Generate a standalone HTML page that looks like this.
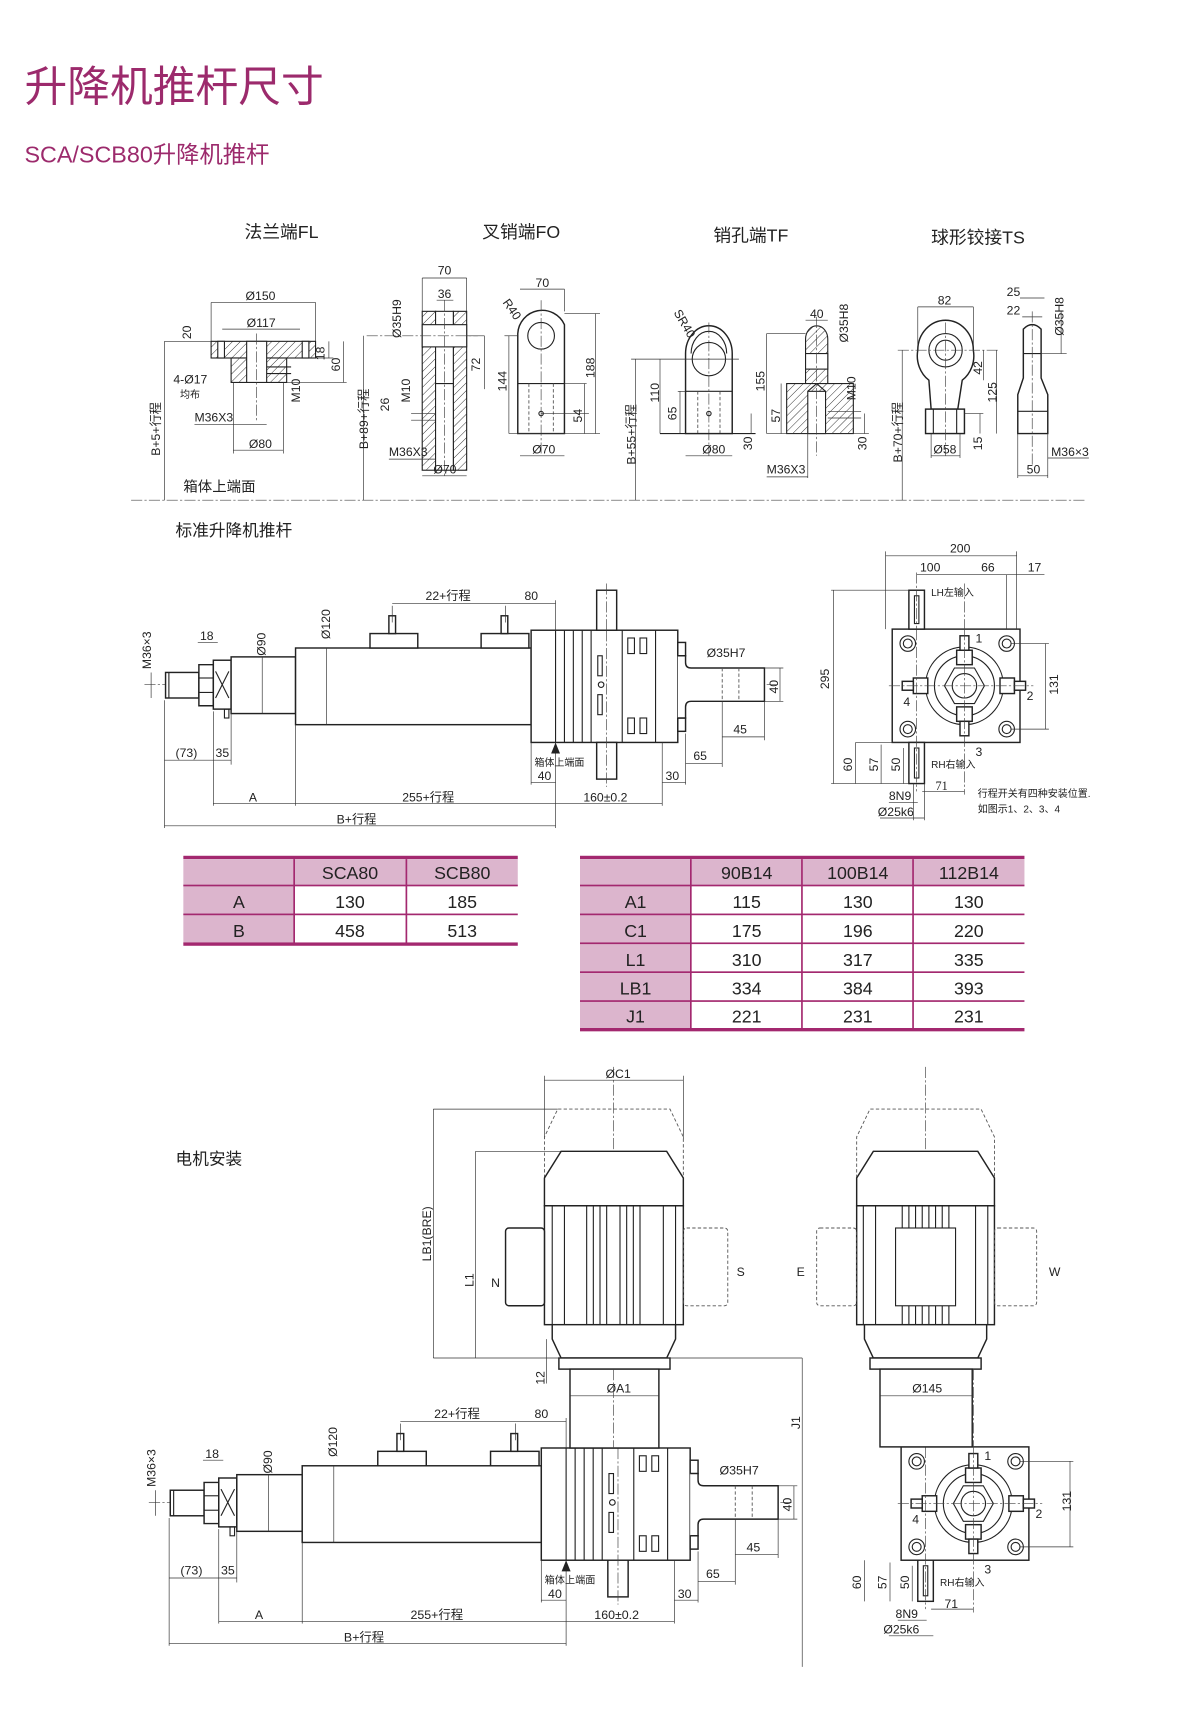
<!DOCTYPE html>
<html><head><meta charset="utf-8"><style>
html,body{margin:0;padding:0;background:#fff}
svg{display:block}
text{font-family:"Liberation Sans","Noto Sans CJK SC",sans-serif;fill:#222}
.t{font-size:11px}
.s{font-size:9px}
.h{font-size:16px}
.ln{stroke:#222;stroke-width:1;fill:none}
.th{stroke:#222;stroke-width:1.3;fill:#fff}
.d{stroke:#333;stroke-width:0.6;fill:none}
.c{stroke:#444;stroke-width:0.6;fill:none;stroke-dasharray:10 2 2 2}
.dash{stroke:#555;stroke-width:0.8;fill:none;stroke-dasharray:3 2}
.tb{font-size:16px;fill:#222}
</style></head><body>
<svg width="1200" height="1726" viewBox="0 0 1080 1553" xmlns="http://www.w3.org/2000/svg">
<defs>
<pattern id="hat" patternUnits="userSpaceOnUse" width="5" height="5" patternTransform="rotate(45)">
<rect width="5" height="5" fill="#fff"/><line x1="0" y1="0" x2="0" y2="5" stroke="#222" stroke-width="0.8"/></pattern>
</defs>

<!-- Titles -->
<text x="22" y="91" style="font-size:38.5px;fill:#9c2a6c">升降机推杆尺寸</text>
<text x="22" y="146" style="font-size:21px;fill:#9c2a6c">SCA/SCB80升降机推杆</text>

<text x="220" y="214" class="h">法兰端FL</text>
<text x="434" y="214" class="h">叉销端FO</text>
<text x="642" y="217" class="h">销孔端TF</text>
<text x="838" y="219" class="h">球形铰接TS</text>

<line x1="118" y1="450" x2="978" y2="450" class="c"/>
<text x="165" y="442" style="font-size:13px">箱体上端面</text>
<text x="158" y="482" style="font-size:15px">标准升降机推杆</text>
<text x="158" y="1048" style="font-size:15px">电机安装</text>

<!-- FL -->
<g>
<line x1="190" y1="272" x2="284" y2="272" class="d"/><text x="221" y="270" class="t">Ø150</text>
<line x1="200" y1="296" x2="270" y2="296" class="d"/><text x="222" y="294" class="t">Ø117</text>
<line x1="190" y1="272" x2="190" y2="307" class="d"/><line x1="284" y1="272" x2="284" y2="307" class="d"/>
<rect x="190" y="307" width="94" height="15" fill="url(#hat)" stroke="#222"/>
<rect x="208" y="322" width="50" height="22" fill="url(#hat)" stroke="#222"/>
<rect x="222" y="307" width="18" height="37" fill="#fff" stroke="#222"/>
<rect x="196" y="307" width="6" height="15" fill="#fff" stroke="#222"/>
<rect x="272" y="307" width="6" height="15" fill="#fff" stroke="#222"/>
<line x1="231" y1="300" x2="231" y2="380" class="c"/>
<line x1="240" y1="330" x2="262" y2="330" class="ln"/><line x1="240" y1="336" x2="262" y2="336" class="ln"/>
<line x1="148" y1="307" x2="190" y2="307" class="d"/>
<line x1="148" y1="307" x2="148" y2="450" class="d"/>
<text transform="translate(172,305) rotate(-90)" class="t">20</text>
<line x1="284" y1="322" x2="300" y2="322" class="d"/><line x1="258" y1="344" x2="312" y2="344" class="d"/>
<line x1="296" y1="307" x2="296" y2="322" class="d"/><text transform="translate(292,324) rotate(-90)" class="t">18</text>
<line x1="309" y1="307" x2="309" y2="344" class="d"/><text transform="translate(306,334) rotate(-90)" class="t">60</text>
<text transform="translate(270,362) rotate(-90)" class="t">M10</text>
<text x="156" y="345" class="t">4-Ø17</text><text x="162" y="358" class="s">均布</text>
<text x="175" y="379" class="t">M36X3</text><line x1="175" y1="382" x2="240" y2="382" class="d"/>
<line x1="210" y1="344" x2="210" y2="408" class="d"/><line x1="255" y1="344" x2="255" y2="408" class="d"/>
<line x1="210" y1="405" x2="255" y2="405" class="d"/><text x="224" y="403" class="t">Ø80</text>
<text transform="translate(144,410) rotate(-90)" class="t">B+5+行程</text>
</g>

<!-- FO left -->
<g>
<line x1="380" y1="250" x2="420" y2="250" class="d"/><text x="394" y="247" class="t">70</text>
<line x1="393" y1="270" x2="408" y2="270" class="d"/><text x="394" y="268" class="t">36</text>
<line x1="380" y1="250" x2="380" y2="280" class="d"/><line x1="420" y1="250" x2="420" y2="280" class="d"/>
<rect x="380" y="280" width="12" height="143" fill="url(#hat)" stroke="#222"/>
<rect x="408" y="280" width="12" height="143" fill="url(#hat)" stroke="#222"/>
<rect x="392" y="280" width="16" height="143" fill="#fff" stroke="#222"/>
<rect x="380" y="292" width="40" height="20" fill="#fff" stroke="#222"/>
<line x1="392" y1="345" x2="408" y2="345" class="ln"/>
<line x1="400" y1="270" x2="400" y2="430" class="c"/>
<line x1="330" y1="302" x2="430" y2="302" class="c"/>
<line x1="420" y1="302" x2="436" y2="302" class="d"/><line x1="436" y1="302" x2="436" y2="350" class="d"/>
<text transform="translate(432,334) rotate(-90)" class="t">72</text>
<text transform="translate(361,304) rotate(-90)" class="t">Ø35H9</text>
<text transform="translate(369,362) rotate(-90)" class="t">M10</text>
<text transform="translate(350,370) rotate(-90)" class="t">26</text>
<line x1="370" y1="372" x2="392" y2="372" class="d"/><line x1="370" y1="378" x2="392" y2="378" class="d"/>
<line x1="327" y1="302" x2="327" y2="450" class="d"/>
<text transform="translate(331,404) rotate(-90)" class="t">B+89+行程</text>
<text x="350" y="410" class="t">M36X3</text><line x1="350" y1="413" x2="392" y2="413" class="d"/>
<line x1="380" y1="428" x2="420" y2="428" class="d"/><text x="390" y="426" class="t">Ø70</text>
</g>
<!-- FO right -->
<g>
<line x1="468" y1="260" x2="508" y2="260" class="d"/><text x="482" y="258" class="t">70</text>
<line x1="508" y1="260" x2="508" y2="280" class="d"/>
<path d="M466,390 L466,300 A22,22 0 0 1 508,292 L508,390 Z" class="th"/>
<circle cx="487" cy="302" r="12" class="ln"/>
<line x1="466" y1="345" x2="508" y2="345" class="ln"/>
<line x1="476" y1="345" x2="476" y2="390" class="dash"/><line x1="498" y1="345" x2="498" y2="390" class="dash"/>
<circle cx="487" cy="372" r="2" class="ln"/>
<line x1="487" y1="270" x2="487" y2="410" class="c"/>
<text transform="translate(452,272) rotate(55)" class="t">R40</text>
<line x1="454" y1="302" x2="466" y2="302" class="d"/><line x1="458" y1="302" x2="458" y2="390" class="d"/>
<text transform="translate(456,352) rotate(-90)" class="t">144</text>
<line x1="508" y1="282" x2="540" y2="282" class="d"/><line x1="536" y1="282" x2="536" y2="390" class="d"/>
<text transform="translate(535,340) rotate(-90)" class="t">188</text>
<line x1="508" y1="345" x2="528" y2="345" class="d"/><line x1="526" y1="345" x2="526" y2="390" class="d"/>
<line x1="487" y1="372" x2="530" y2="372" class="d"/>
<text transform="translate(524,380) rotate(-90)" class="t">54</text>
<line x1="458" y1="390" x2="540" y2="390" class="d"/>
<line x1="468" y1="410" x2="508" y2="410" class="d"/><text x="479" y="408" class="t">Ø70</text>
</g>

<!-- TF left -->
<g>
<path d="M617,390 L617,318 A21,25 0 0 1 659,318 L659,390 Z" class="th"/>
<path d="M622,318 A16,20 0 0 1 654,318" class="ln"/>
<circle cx="638" cy="323" r="15" class="ln"/>
<line x1="617" y1="352" x2="659" y2="352" class="ln"/>
<line x1="628" y1="352" x2="628" y2="390" class="dash"/><line x1="648" y1="352" x2="648" y2="390" class="dash"/>
<circle cx="638" cy="372" r="2" class="ln"/>
<line x1="638" y1="290" x2="638" y2="410" class="c"/>
<text transform="translate(606,281) rotate(60)" class="t">SR40</text>
<line x1="568" y1="323" x2="665" y2="323" class="d"/>
<line x1="594" y1="323" x2="594" y2="390" class="d"/><text transform="translate(593,362) rotate(-90)" class="t">110</text>
<line x1="610" y1="352" x2="617" y2="352" class="d"/><line x1="612" y1="352" x2="612" y2="390" class="d"/>
<text transform="translate(609,378) rotate(-90)" class="t">65</text>
<line x1="594" y1="390" x2="680" y2="390" class="ln"/>
<line x1="572" y1="323" x2="572" y2="450" class="d"/>
<text transform="translate(572,418) rotate(-90)" class="t">B+55+行程</text>
<line x1="617" y1="410" x2="659" y2="410" class="d"/><text x="632" y="408" class="t">Ø80</text>
<line x1="676" y1="372" x2="676" y2="390" class="d"/><text transform="translate(677,405) rotate(-90)" class="t">30</text>
</g>
<!-- TF right -->
<g>
<path d="M725,345 L725,305 A10,12 0 0 1 745,305 L745,345 Z" fill="url(#hat)" stroke="#222"/>
<rect x="725" y="318" width="20" height="14" fill="#fff" stroke="#222"/>
<rect x="708" y="345" width="60" height="45" fill="url(#hat)" stroke="#222"/>
<rect x="727" y="352" width="16" height="38" fill="#fff" stroke="#222"/>
<path d="M727,352 L735,345 L743,352" class="ln"/>
<line x1="735" y1="285" x2="735" y2="410" class="c"/>
<line x1="725" y1="288" x2="745" y2="288" class="d"/><text x="729" y="286" class="t">40</text>
<text transform="translate(763,308) rotate(-90)" class="t">Ø35H8</text>
<line x1="690" y1="300" x2="725" y2="300" class="d"/>
<line x1="690" y1="300" x2="690" y2="390" class="d"/><text transform="translate(688,352) rotate(-90)" class="t">155</text>
<line x1="703" y1="345" x2="703" y2="390" class="d"/><text transform="translate(702,380) rotate(-90)" class="t">57</text>
<text transform="translate(770,360) rotate(-90)" class="t">M10</text>
<line x1="745" y1="370" x2="775" y2="370" class="d"/><line x1="745" y1="376" x2="775" y2="376" class="d"/>
<line x1="778" y1="372" x2="778" y2="390" class="d"/><text transform="translate(780,405) rotate(-90)" class="t">30</text>
<line x1="690" y1="390" x2="782" y2="390" class="d"/>
<text x="690" y="426" class="t">M36X3</text><line x1="690" y1="429" x2="727" y2="429" class="d"/>
<line x1="727" y1="390" x2="727" y2="430" class="d"/>
</g>

<!-- TS left -->
<g>
<line x1="826" y1="276" x2="876" y2="276" class="d"/><text x="844" y="274" class="t">82</text>
<line x1="826" y1="276" x2="826" y2="315" class="d"/><line x1="876" y1="276" x2="876" y2="315" class="d"/>
<path d="M826,315 A25,27 0 0 1 876,315 A25,27 0 0 1 866,342 L862,368 L838,368 L836,342 A25,27 0 0 1 826,315 Z" class="th"/>
<circle cx="851" cy="315" r="15" class="ln"/><circle cx="851" cy="315" r="9" class="ln"/>
<rect x="833" y="368" width="35" height="22" class="th"/>
<line x1="840" y1="368" x2="840" y2="390" class="ln"/><line x1="861" y1="368" x2="861" y2="390" class="ln"/>
<line x1="851" y1="290" x2="851" y2="410" class="c"/>
<line x1="808" y1="315" x2="900" y2="315" class="c"/>
<line x1="885" y1="315" x2="885" y2="342" class="d"/><text transform="translate(884,337) rotate(-90)" class="t">42</text>
<line x1="897" y1="315" x2="897" y2="390" class="d"/><text transform="translate(897,362) rotate(-90)" class="t">125</text>
<line x1="868" y1="372" x2="885" y2="372" class="d"/><line x1="882" y1="372" x2="882" y2="390" class="d"/>
<text transform="translate(884,405) rotate(-90)" class="t">15</text>
<line x1="812" y1="315" x2="812" y2="450" class="d"/>
<text transform="translate(812,416) rotate(-90)" class="t">B+70+行程</text>
<line x1="838" y1="410" x2="864" y2="410" class="d"/><text x="840" y="408" class="t">Ø58</text>
<line x1="838" y1="390" x2="838" y2="412" class="d"/><line x1="864" y1="390" x2="864" y2="412" class="d"/>
</g>
<!-- TS right -->
<g>
<line x1="918" y1="268" x2="940" y2="268" class="d"/><text x="906" y="266" class="t">25</text>
<line x1="920" y1="285" x2="938" y2="285" class="d"/><text x="906" y="283" class="t">22</text>
<path d="M921,340 L921,296 Q929,288 937,296 L937,340 L943,355 L943,390 L916,390 L916,355 Z" class="th"/>
<line x1="916" y1="370" x2="943" y2="370" class="ln"/>
<line x1="921" y1="318" x2="937" y2="318" class="ln"/>
<line x1="929" y1="280" x2="929" y2="420" class="c"/>
<text transform="translate(957,302) rotate(-90)" class="t">Ø35H8</text>
<line x1="937" y1="318" x2="960" y2="318" class="d"/><line x1="955" y1="280" x2="955" y2="318" class="d"/>
<text x="946" y="410" class="t">M36×3</text><line x1="943" y1="412" x2="980" y2="412" class="d"/>
<line x1="916" y1="428" x2="943" y2="428" class="d"/><text x="924" y="426" class="t">50</text>
<line x1="916" y1="390" x2="916" y2="430" class="d"/><line x1="943" y1="390" x2="943" y2="430" class="d"/>
</g>

<!-- Standard actuator -->
<g id="act">
<line x1="130" y1="616" x2="702" y2="616" class="c"/>
<rect x="149" y="605" width="30" height="23" class="th"/>
<line x1="152" y1="605" x2="152" y2="628" class="ln"/>
<path d="M179,598 L192,598 L192,635 L179,635 Z" class="th"/>
<line x1="179" y1="610" x2="192" y2="610" class="ln"/><line x1="179" y1="623" x2="192" y2="623" class="ln"/>
<rect x="192" y="594" width="16" height="44" class="th"/>
<line x1="194" y1="604" x2="206" y2="628" class="ln"/><line x1="206" y1="604" x2="194" y2="628" class="ln"/>
<rect x="202" y="638" width="4" height="8" class="ln"/>
<rect x="208" y="591" width="58" height="51" class="th"/>
<rect x="266" y="583" width="212" height="69" class="th"/>
<rect x="333" y="570" width="43" height="13" class="th"/>
<rect x="350" y="554" width="6" height="16" class="th"/>
<rect x="433" y="570" width="43" height="13" class="th"/>
<rect x="451" y="554" width="6" height="16" class="th"/>
<rect x="478" y="567" width="132" height="101" class="th"/>
<g class="ln">
<line x1="500" y1="567" x2="500" y2="668"/><line x1="508" y1="567" x2="508" y2="668"/><line x1="516" y1="567" x2="516" y2="668"/><line x1="524" y1="567" x2="524" y2="668"/><line x1="532" y1="567" x2="532" y2="668"/>
<line x1="560" y1="567" x2="560" y2="668"/><line x1="590" y1="567" x2="590" y2="668"/>
<rect x="538" y="590" width="4" height="18"/><rect x="538" y="625" width="4" height="18"/>
<rect x="565" y="574" width="6" height="14"/><rect x="576" y="574" width="6" height="14"/>
<rect x="565" y="646" width="6" height="14"/><rect x="576" y="646" width="6" height="14"/>
<circle cx="541" cy="616" r="2.5"/>
</g>
<rect x="537" y="668" width="18" height="33" class="th"/>
<rect x="610" y="578" width="7" height="12" class="th"/><rect x="610" y="646" width="7" height="12" class="th"/>
<path d="M610,590 L617,590 L617,596 Q617,601 622,601 L688,601 L688,631 L622,631 Q617,631 617,636 L617,646 L610,646" class="th"/>
<line x1="650" y1="601" x2="650" y2="631" class="dash"/><line x1="665" y1="601" x2="665" y2="631" class="dash"/>
<line x1="546" y1="567" x2="546" y2="708" class="c"/>
<line x1="353" y1="545" x2="353" y2="560" class="d"/><line x1="455" y1="545" x2="455" y2="560" class="d"/><line x1="500" y1="540" x2="500" y2="567" class="d"/>
<line x1="353" y1="543" x2="500" y2="543" class="d"/>
<text x="383" y="540" class="t">22+行程</text><text x="472" y="540" class="t">80</text>
<line x1="294" y1="583" x2="294" y2="652" class="d"/><text transform="translate(297,575) rotate(-90)" class="t">Ø120</text>
<line x1="236" y1="591" x2="236" y2="642" class="d"/><text transform="translate(239,590) rotate(-90)" class="t">Ø90</text>
<line x1="178" y1="578" x2="196" y2="578" class="d"/><text x="180" y="576" class="t">18</text>
<line x1="136" y1="605" x2="136" y2="628" class="d"/><text transform="translate(136,602) rotate(-90)" class="t">M36×3</text>
<line x1="148" y1="630" x2="148" y2="745" class="d"/><line x1="192" y1="640" x2="192" y2="725" class="d"/><line x1="208" y1="640" x2="208" y2="688" class="d"/>
<line x1="148" y1="684" x2="208" y2="684" class="d"/><text x="158" y="681" class="t">(73)</text><text x="194" y="681" class="t">35</text>
<line x1="266" y1="652" x2="266" y2="725" class="d"/>
<line x1="500" y1="668" x2="500" y2="745" class="d"/>
<path d="M500,668 L496,678 L504,678 Z" fill="#222"/>
<text x="481" y="689" class="s">箱体上端面</text>
<line x1="478" y1="668" x2="478" y2="706" class="d"/><line x1="478" y1="704" x2="500" y2="704" class="d"/><text x="484" y="702" class="t">40</text>
<line x1="596" y1="668" x2="596" y2="725" class="d"/><line x1="596" y1="704" x2="617" y2="704" class="d"/><line x1="617" y1="660" x2="617" y2="706" class="d"/><text x="599" y="702" class="t">30</text>
<line x1="617" y1="687" x2="650" y2="687" class="d"/><line x1="650" y1="631" x2="650" y2="690" class="d"/><text x="624" y="684" class="t">65</text>
<line x1="650" y1="663" x2="688" y2="663" class="d"/><line x1="688" y1="631" x2="688" y2="666" class="d"/><text x="660" y="660" class="t">45</text>
<text x="636" y="591" class="t">Ø35H7</text>
<line x1="688" y1="601" x2="705" y2="601" class="d"/><line x1="688" y1="631" x2="705" y2="631" class="d"/><line x1="702" y1="601" x2="702" y2="631" class="d"/>
<text transform="translate(700,624) rotate(-90)" class="t">40</text>
<line x1="192" y1="723" x2="596" y2="723" class="d"/>
<text x="224" y="721" class="t">A</text><text x="362" y="721" class="t">255+行程</text><text x="525" y="721" class="t">160±0.2</text>
<line x1="148" y1="743" x2="500" y2="743" class="d"/><text x="303" y="741" class="t">B+行程</text>
</g>
<!-- upper shaft top (standard only) -->
<rect x="537" y="531" width="18" height="36" class="th"/>
<line x1="546" y1="525" x2="546" y2="567" class="c"/>

<!-- Top view (standard) -->
<g id="top">
<rect x="803" y="566" width="115" height="102" class="th"/>
<g class="ln">
<circle cx="817" cy="579" r="7"/><circle cx="817" cy="579" r="4"/>
<circle cx="906" cy="579" r="7"/><circle cx="906" cy="579" r="4"/>
<circle cx="817" cy="656" r="7"/><circle cx="817" cy="656" r="4"/>
<circle cx="906" cy="656" r="7"/><circle cx="906" cy="656" r="4"/>
<circle cx="868" cy="617" r="35"/><circle cx="868" cy="617" r="27"/>
<polygon points="886,617 877,601 859,601 850,617 859,633 877,633"/>
<circle cx="868" cy="617" r="11"/>
</g>
<rect x="861" y="585" width="14" height="13" class="th"/><rect x="864" y="572" width="8" height="13" class="th"/>
<rect x="861" y="636" width="14" height="13" class="th"/><rect x="864" y="649" width="8" height="13" class="th"/>
<rect x="822" y="610" width="13" height="14" class="th"/><rect x="812" y="613" width="10" height="8" class="th"/>
<rect x="900" y="610" width="13" height="14" class="th"/><rect x="913" y="613" width="10" height="8" class="th"/>
<rect x="818" y="668" width="14" height="37" class="th"/><rect x="823" y="673" width="4" height="27" class="ln"/>
<line x1="800" y1="617" x2="930" y2="617" class="c"/><line x1="868" y1="566" x2="868" y2="715" class="c"/>
<line x1="825" y1="566" x2="825" y2="712" class="c"/>
<text x="878" y="578" class="t">1</text><text x="924" y="630" class="t">2</text><text x="878" y="680" class="t">3</text><text x="813" y="635" class="t">4</text>
<text x="838" y="691" class="s">RH右输入</text>
</g>
<rect x="818" y="531" width="14" height="35" class="th"/><rect x="823" y="536" width="4" height="25" class="ln"/>
<line x1="825" y1="515" x2="825" y2="566" class="c"/><line x1="868" y1="525" x2="868" y2="566" class="c"/>
<text x="838" y="536" class="s">LH左输入</text>
<g>
<line x1="797" y1="500" x2="915" y2="500" class="d"/><text x="855" y="497" class="t">200</text>
<line x1="797" y1="496" x2="797" y2="566" class="d"/><line x1="915" y1="496" x2="915" y2="566" class="d"/>
<line x1="825" y1="517" x2="940" y2="517" class="d"/><text x="828" y="514" class="t">100</text><text x="883" y="514" class="t">66</text><text x="925" y="514" class="t">17</text>
<line x1="906" y1="517" x2="906" y2="566" class="d"/>
<line x1="748" y1="531" x2="818" y2="531" class="d"/><line x1="748" y1="705" x2="818" y2="705" class="d"/>
<line x1="750" y1="531" x2="750" y2="705" class="d"/><text transform="translate(746,620) rotate(-90)" class="t">295</text>
<line x1="910" y1="579" x2="944" y2="579" class="d"/><line x1="910" y1="656" x2="944" y2="656" class="d"/>
<line x1="941" y1="579" x2="941" y2="656" class="d"/><text transform="translate(952,625) rotate(-90)" class="t">131</text>
<line x1="770" y1="668" x2="770" y2="705" class="d"/><line x1="770" y1="668" x2="818" y2="668" class="d"/><text transform="translate(767,694) rotate(-90)" class="t">60</text>
<line x1="793" y1="670" x2="793" y2="705" class="d"/><text transform="translate(790,694) rotate(-90)" class="t">57</text>
<line x1="813" y1="673" x2="813" y2="705" class="d"/><text transform="translate(810,694) rotate(-90)" class="t">50</text>
<line x1="830" y1="712" x2="868" y2="712" class="d"/><text x="842" y="711" style="font-family:'Liberation Serif',serif;font-size:11px">71</text>
<line x1="822" y1="705" x2="822" y2="738" class="d"/><line x1="832" y1="705" x2="832" y2="738" class="d"/>
<line x1="800" y1="722" x2="826" y2="722" class="d"/><text x="800" y="720" class="t">8N9</text>
<line x1="792" y1="736" x2="832" y2="736" class="d"/><text x="790" y="734" class="t">Ø25k6</text>
<text x="880" y="717" class="s">行程开关有四种安装位置.</text>
<text x="880" y="731" class="s">如图示1、2、3、4</text>
</g>

<!-- Tables -->
<g>
<rect x="165" y="770" width="301" height="3" fill="#a3286f"/>
<rect x="165" y="773" width="100" height="76" fill="#dcb5cd"/>
<rect x="265" y="773" width="201" height="24" fill="#dcb5cd"/>
<rect x="165" y="796" width="301" height="1.5" fill="#a3286f"/>
<rect x="165" y="822" width="301" height="1.5" fill="#a3286f"/>
<rect x="165" y="848" width="301" height="3" fill="#a3286f"/>
<rect x="264" y="773" width="1.5" height="76" fill="#a3286f"/>
<rect x="365" y="773" width="1.5" height="76" fill="#a3286f"/>
<text x="315" y="791" class="tb" text-anchor="middle">SCA80</text><text x="416" y="791" class="tb" text-anchor="middle">SCB80</text>
<text x="215" y="817" class="tb" text-anchor="middle">A</text><text x="315" y="817" class="tb" text-anchor="middle">130</text><text x="416" y="817" class="tb" text-anchor="middle">185</text>
<text x="215" y="843" class="tb" text-anchor="middle">B</text><text x="315" y="843" class="tb" text-anchor="middle">458</text><text x="416" y="843" class="tb" text-anchor="middle">513</text>
</g>
<g>
<rect x="522" y="770" width="400" height="3" fill="#a3286f"/>
<rect x="522" y="773" width="100" height="153" fill="#dcb5cd"/>
<rect x="622" y="773" width="300" height="24" fill="#dcb5cd"/>
<rect x="522" y="796" width="400" height="1.5" fill="#a3286f"/>
<rect x="522" y="822" width="400" height="1.5" fill="#a3286f"/>
<rect x="522" y="848" width="400" height="1.5" fill="#a3286f"/>
<rect x="522" y="874" width="400" height="1.5" fill="#a3286f"/>
<rect x="522" y="900" width="400" height="1.5" fill="#a3286f"/>
<rect x="522" y="925" width="400" height="3" fill="#a3286f"/>
<rect x="621" y="773" width="1.5" height="153" fill="#a3286f"/>
<rect x="721" y="773" width="1.5" height="153" fill="#a3286f"/>
<rect x="821" y="773" width="1.5" height="153" fill="#a3286f"/>
<g class="tb" text-anchor="middle">
<text x="672" y="791">90B14</text><text x="772" y="791">100B14</text><text x="872" y="791">112B14</text>
<text x="572" y="817">A1</text><text x="672" y="817">115</text><text x="772" y="817">130</text><text x="872" y="817">130</text>
<text x="572" y="843">C1</text><text x="672" y="843">175</text><text x="772" y="843">196</text><text x="872" y="843">220</text>
<text x="572" y="869">L1</text><text x="672" y="869">310</text><text x="772" y="869">317</text><text x="872" y="869">335</text>
<text x="572" y="895">LB1</text><text x="672" y="895">334</text><text x="772" y="895">384</text><text x="872" y="895">393</text>
<text x="572" y="920">J1</text><text x="672" y="920">221</text><text x="772" y="920">231</text><text x="872" y="920">231</text>
</g>
</g>

<!-- Motor front -->
<g>
<line x1="552" y1="960" x2="552" y2="1310" class="c"/>
<line x1="490" y1="972" x2="615" y2="972" class="d"/><text x="545" y="970" class="t">ØC1</text>
<line x1="490" y1="968" x2="490" y2="1025" class="d"/><line x1="615" y1="968" x2="615" y2="1025" class="d"/>
<path d="M490,1060 L490,1023 L502,998 L603,998 L615,1023 L615,1060" class="dash"/>
<path d="M490,1085 L490,1060 L505,1036 L600,1036 L615,1060 L615,1085 Z" class="th"/>
<rect x="490" y="1085" width="125" height="107" class="th"/>
<g class="ln">
<line x1="497" y1="1085" x2="497" y2="1192"/><line x1="508" y1="1085" x2="508" y2="1192"/>
<line x1="528" y1="1085" x2="528" y2="1192"/><line x1="534" y1="1085" x2="534" y2="1192"/><line x1="540" y1="1085" x2="540" y2="1192"/><line x1="546" y1="1085" x2="546" y2="1192"/>
<line x1="558" y1="1085" x2="558" y2="1192"/><line x1="564" y1="1085" x2="564" y2="1192"/><line x1="570" y1="1085" x2="570" y2="1192"/><line x1="576" y1="1085" x2="576" y2="1192"/>
<line x1="597" y1="1085" x2="597" y2="1192"/><line x1="608" y1="1085" x2="608" y2="1192"/>
<rect x="512" y="1192" width="10" height="8"/><rect x="584" y="1192" width="10" height="8"/>
</g>
<path d="M497,1192 L608,1192 L608,1205 L600,1222 L505,1222 L497,1205 Z" class="th"/>
<rect x="503" y="1222" width="100" height="10" class="th"/>
<rect x="455" y="1105" width="35" height="70" rx="3" class="th"/>
<rect x="615" y="1105" width="40" height="70" rx="3" class="dash"/>
<text x="442" y="1158" class="t">N</text><text x="663" y="1148" class="t">S</text>
<line x1="390" y1="998" x2="502" y2="998" class="d"/><line x1="390" y1="998" x2="390" y2="1222" class="d"/>
<line x1="390" y1="1222" x2="722" y2="1222" class="d"/>
<text transform="translate(388,1135) rotate(-90)" class="t">LB1(BRE)</text>
<line x1="428" y1="1036" x2="505" y2="1036" class="d"/><line x1="428" y1="1036" x2="428" y2="1222" class="d"/>
<text transform="translate(426,1158) rotate(-90)" class="t">L1</text>
<line x1="492" y1="1205" x2="492" y2="1245" class="d"/><text transform="translate(490,1246) rotate(-90)" class="t">12</text>
<line x1="722" y1="1222" x2="722" y2="1500" class="d"/><text transform="translate(720,1286) rotate(-90)" class="t">J1</text>
</g>

<!-- Motor side -->
<g>
<line x1="833" y1="960" x2="833" y2="1310" class="c"/>
<path d="M771,1060 L771,1023 L783,998 L883,998 L895,1023 L895,1060" class="dash"/>
<path d="M771,1085 L771,1060 L786,1036 L880,1036 L895,1060 L895,1085 Z" class="th"/>
<rect x="771" y="1085" width="124" height="107" class="th"/>
<g class="ln">
<line x1="777" y1="1085" x2="777" y2="1192"/><line x1="788" y1="1085" x2="788" y2="1192"/>
<line x1="878" y1="1085" x2="878" y2="1192"/><line x1="889" y1="1085" x2="889" y2="1192"/>
<rect x="806" y="1105" width="54" height="70" fill="#fff"/>
<line x1="812" y1="1085" x2="812" y2="1105"/><line x1="818" y1="1085" x2="818" y2="1105"/><line x1="824" y1="1085" x2="824" y2="1105"/><line x1="830" y1="1085" x2="830" y2="1105"/><line x1="836" y1="1085" x2="836" y2="1105"/><line x1="842" y1="1085" x2="842" y2="1105"/><line x1="848" y1="1085" x2="848" y2="1105"/><line x1="854" y1="1085" x2="854" y2="1105"/>
<line x1="812" y1="1175" x2="812" y2="1192"/><line x1="818" y1="1175" x2="818" y2="1192"/><line x1="824" y1="1175" x2="824" y2="1192"/><line x1="830" y1="1175" x2="830" y2="1192"/><line x1="836" y1="1175" x2="836" y2="1192"/><line x1="842" y1="1175" x2="842" y2="1192"/><line x1="848" y1="1175" x2="848" y2="1192"/><line x1="854" y1="1175" x2="854" y2="1192"/>
<rect x="780" y="1192" width="10" height="8"/><rect x="874" y="1192" width="10" height="8"/>
</g>
<path d="M778,1192 L888,1192 L888,1205 L880,1222 L786,1222 L778,1205 Z" class="th"/>
<rect x="783" y="1222" width="100" height="10" class="th"/>
<rect x="735" y="1105" width="36" height="70" rx="3" class="dash"/>
<rect x="895" y="1105" width="38" height="70" rx="3" class="dash"/>
<text x="717" y="1148" class="t">E</text><text x="944" y="1148" class="t">W</text>
</g>

<!-- Lower actuator -->
<use href="#act" transform="translate(2,736) scale(1.015,1)"/>
<rect x="513" y="1232" width="80" height="71" class="th"/>
<line x1="513" y1="1256" x2="593" y2="1256" class="d"/><text x="546" y="1253" class="t">ØA1</text>
<line x1="552" y1="1232" x2="552" y2="1303" class="c"/>

<!-- Lower top view -->
<use href="#top" transform="translate(8,736)"/>
<rect x="792" y="1232" width="83" height="70" class="th"/>
<line x1="792" y1="1256" x2="875" y2="1256" class="d"/><text x="821" y="1253" class="t">Ø145</text>
<line x1="876" y1="1232" x2="876" y2="1302" class="c"/>
<g>
<line x1="918" y1="1315" x2="966" y2="1315" class="d"/><line x1="918" y1="1392" x2="966" y2="1392" class="d"/>
<line x1="963" y1="1315" x2="963" y2="1392" class="d"/><text transform="translate(964,1360) rotate(-90)" class="t">131</text>
<line x1="778" y1="1404" x2="778" y2="1441" class="d"/><text transform="translate(775,1430) rotate(-90)" class="t">60</text>
<line x1="801" y1="1406" x2="801" y2="1441" class="d"/><text transform="translate(798,1430) rotate(-90)" class="t">57</text>
<line x1="821" y1="1409" x2="821" y2="1441" class="d"/><text transform="translate(818,1430) rotate(-90)" class="t">50</text>
<line x1="838" y1="1448" x2="876" y2="1448" class="d"/><text x="850" y="1447" class="t">71</text>
<line x1="808" y1="1458" x2="834" y2="1458" class="d"/><text x="806" y="1456" class="t">8N9</text>
<line x1="800" y1="1472" x2="840" y2="1472" class="d"/><text x="795" y="1470" class="t">Ø25k6</text>
</g>
</svg>
</body></html>
